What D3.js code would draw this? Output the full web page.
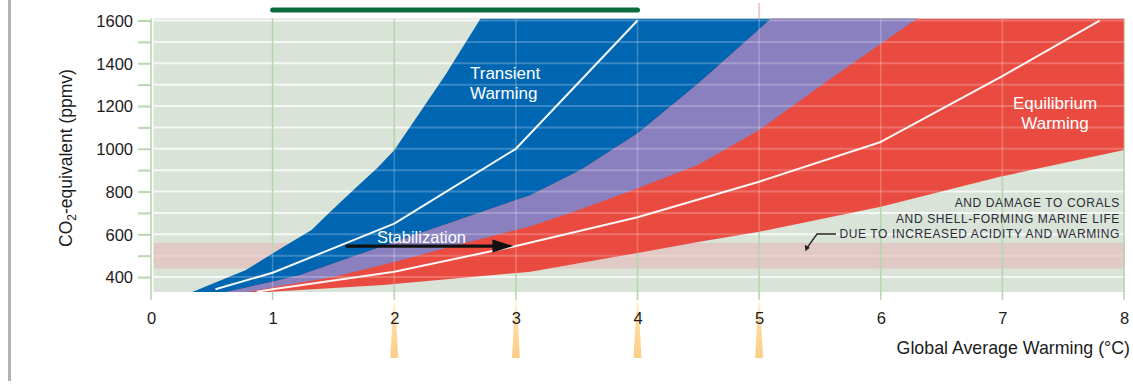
<!DOCTYPE html>
<html>
<head>
<meta charset="utf-8">
<script src="https://cdn.jsdelivr.net/npm/d3@7"></script>
<style>
  body { margin: 0; background: #fff; }
  svg { display: block; font-family: "Liberation Sans", Arial, Helvetica, sans-serif; }
</style>
</head>
<body>
<svg id="chart" width="1133" height="389"></svg>
<script>
// ---- Data: warming (°C) vs CO2-equivalent (ppmv) along each band edge ----
// Transient warming band, low-warming edge
const transientLowT   = [0.34, 0.78, 1.09, 1.32, 1.50, 1.68, 1.86, 2.00, 2.42, 2.71];
const transientLowPpm = [330, 433, 542, 620, 720, 815, 910, 993, 1345, 1610];
// Transient warming band, high-warming edge
const transientHighT   = [0.80, 1.00, 1.50, 2.00, 2.50, 3.12, 3.50, 4.00, 4.50, 5.00, 5.61, 6.30];
const transientHighPpm = [330, 352, 400, 470, 548, 638, 710, 815, 925, 1088, 1337, 1610];
// Equilibrium warming band, low-warming edge
const equilibriumLowT   = [0.62, 1.00, 1.23, 2.05, 2.76, 3.12, 3.53, 4.00, 4.50, 5.10];
const equilibriumLowPpm = [330, 378, 409, 573, 713, 783, 900, 1072, 1305, 1610];
// Equilibrium warming band, high-warming edge
const equilibriumHighT   = [0.95, 1.91, 3.12, 4.00, 4.51, 5.00, 6.00, 6.98, 8.00];
const equilibriumHighPpm = [330, 363, 425, 513, 565, 612, 729, 869, 994];
// Central estimates
const transientMidT     = [0.53, 1, 2, 3, 4];
const transientMidPpm   = [343, 420, 650, 1000, 1600];
const equilibriumMidT   = [0.87, 1, 2, 3, 4, 5, 6, 7, 7.8];
const equilibriumMidPpm = [331, 343, 425, 545, 680, 846, 1032, 1340, 1600];

// Axis ticks
const xTicks = [0, 1, 2, 3, 4, 5, 6, 7, 8];
const yTicks = d3.range(400, 1601, 100);
const yLabelStep = 200;

// Annotations
const riskBand = [440, 560];              // ppmv shaded range
const stabilization = { ppm: 545, from: 1.6, to: 2.98 };
const markerT = [2, 3, 4, 5];             // warming levels flagged below the axis
const barRange = [1, 4];                  // bar above the plot
const coralLines = ["AND DAMAGE TO CORALS", "AND SHELL-FORMING MARINE LIFE", "DUE TO INCREASED ACIDITY AND WARMING"];

// ---- Scales ----
const x = d3.scaleLinear().domain([0, 8]).range([151, 1124]);
const y = d3.scaleLinear().domain([330, 1610]).range([292, 18.4]);

const svg = d3.select("#chart");
const defs = svg.append("defs");

const zip = (ts, ps) => ts.map((t, i) => [t, ps[i]]);
const lineGen = d3.line().x(d => x(d[0])).y(d => y(d[1]));
const poly = pts => lineGen(pts) + "Z";

const A = zip(transientLowT, transientLowPpm);
const C = zip(transientHighT, transientHighPpm);
const B = zip(equilibriumLowT, equilibriumLowPpm);
const D = zip(equilibriumHighT, equilibriumHighPpm);
const [xMin, xMax] = x.domain();
const [yMin, yMax] = y.domain();

const bluePoly   = poly(A.concat(C.slice().reverse()));
const redPoly    = poly(B.concat([[xMax, yMax]], D.slice().reverse()));
const purplePoly = poly(B.concat(C.slice().reverse()));

// clip regions
defs.append("clipPath").attr("id", "plotClip").append("rect")
  .attr("x", x(xMin)).attr("y", y(yMax))
  .attr("width", x(xMax) - x(xMin) + 1).attr("height", y(yMin) - y(yMax));
const bandsClip = defs.append("clipPath").attr("id", "bandsClip");
bandsClip.append("path").attr("d", bluePoly);
bandsClip.append("path").attr("d", redPoly);

const grad = defs.append("linearGradient").attr("id", "spikeGrad")
  .attr("x1", 0).attr("y1", 0).attr("x2", 0).attr("y2", 1);
grad.append("stop").attr("offset", "0%").attr("stop-color", "#fff3da");
grad.append("stop").attr("offset", "35%").attr("stop-color", "#fedba2");
grad.append("stop").attr("offset", "100%").attr("stop-color", "#fcce86");

// left frame bar
svg.append("rect").attr("x", 8).attr("y", 0).attr("width", 3).attr("height", 381).attr("fill", "#b3b3b3");

// top bar and faint marker
svg.append("line")
  .attr("x1", x(barRange[0])).attr("x2", x(barRange[1]))
  .attr("y1", 10).attr("y2", 10)
  .attr("stroke", "#0b6b3b").attr("stroke-width", 5).attr("stroke-linecap", "round");
svg.append("line").attr("x1", x(5)).attr("x2", x(5)).attr("y1", 3).attr("y2", 18)
  .attr("stroke", "#f2cccc").attr("stroke-width", 2);

// plot background
svg.append("rect")
  .attr("x", x(xMin) + 2.5).attr("y", y(yMax))
  .attr("width", x(xMax) - x(xMin) - 1.5).attr("height", y(yMin) - y(yMax))
  .attr("fill", "#d9e3d7");

// horizontal grid (white)
const hGrid = svg.append("g");
hGrid.selectAll("line").data(yTicks).join("line")
  .attr("x1", x(xMin) + 2.5).attr("x2", x(xMax) + 1)
  .attr("y1", d => y(d)).attr("y2", d => y(d))
  .attr("stroke", "#f6f8f5").attr("stroke-width", 2);

// shaded concentration band
svg.append("rect")
  .attr("x", x(xMin) + 2.5).attr("y", y(riskBand[1]))
  .attr("width", x(xMax) - x(xMin) - 1.5).attr("height", y(riskBand[0]) - y(riskBand[1]))
  .attr("fill", "#e6b8b9").attr("opacity", 0.6);

// vertical grid (green)
svg.append("g").selectAll("line").data(xTicks).join("line")
  .attr("x1", d => x(d)).attr("x2", d => x(d))
  .attr("y1", y(yMax)).attr("y2", 300)
  .attr("stroke", "#b6d8ae").attr("stroke-width", 1.6);

// bands
const bands = svg.append("g").attr("clip-path", "url(#plotClip)");
bands.append("path").attr("d", bluePoly).attr("fill", "#0166b2");
bands.append("path").attr("d", redPoly).attr("fill", "#e94b40");
bands.append("path").attr("d", purplePoly).attr("fill", "#8a80bf");

// faint grid showing through the bands
const over = svg.append("g").attr("clip-path", "url(#bandsClip)");
const overInner = over.append("g").attr("clip-path", "url(#plotClip)");
overInner.selectAll("line.h").data(yTicks).join("line").attr("class", "h")
  .attr("x1", x(xMin)).attr("x2", x(xMax) + 1)
  .attr("y1", d => y(d)).attr("y2", d => y(d))
  .attr("stroke", "#ffffff").attr("stroke-opacity", 0.22).attr("stroke-width", 2);
overInner.selectAll("line.v").data(xTicks).join("line").attr("class", "v")
  .attr("x1", d => x(d)).attr("x2", d => x(d))
  .attr("y1", y(yMax)).attr("y2", y(yMin))
  .attr("stroke", "#ffffff").attr("stroke-opacity", 0.22).attr("stroke-width", 1.6);

// central estimate lines
const mid = svg.append("g").attr("clip-path", "url(#plotClip)");
[zip(transientMidT, transientMidPpm), zip(equilibriumMidT, equilibriumMidPpm)].forEach(pts => {
  mid.append("path").attr("d", lineGen(pts))
    .attr("fill", "none").attr("stroke", "#ffffff").attr("stroke-width", 2)
    .attr("stroke-linejoin", "round").attr("opacity", 0.95);
});

// markers below the x axis
svg.append("g").selectAll("path").data(markerT).join("path")
  .attr("d", d => `M${x(d) - 0.8},302L${x(d) + 0.8},302L${x(d) + 4},358L${x(d) - 4},358Z`)
  .attr("fill", "url(#spikeGrad)");

// x axis labels
const xAxis = d3.axisBottom(x).tickValues(xTicks).tickSize(0).tickPadding(20.5).tickFormat(d3.format("d"));
const gx = svg.append("g").attr("transform", `translate(0,${y(yMin)})`).call(xAxis);
gx.select(".domain").remove();
gx.selectAll("text").attr("font-size", 16.5).attr("fill", "#1c1c1c")
  .attr("font-family", "'Liberation Sans', Arial, sans-serif");

// y axis
const yAxis = d3.axisLeft(y).tickValues(yTicks).tickSize(13).tickPadding(5)
  .tickFormat(d => d % yLabelStep === 0 ? d : "");
const gy = svg.append("g").attr("transform", `translate(${x(xMin)},0)`).call(yAxis);
gy.select(".domain").remove();
gy.selectAll(".tick line").attr("stroke", "#b6d8ae").attr("stroke-width", 2);
gy.selectAll("text").attr("font-size", 16.5).attr("fill", "#1c1c1c")
  .attr("font-family", "'Liberation Sans', Arial, sans-serif").attr("dy", "0.36em");

// axis titles
svg.append("text").attr("x", 1130).attr("y", 354).attr("text-anchor", "end")
  .attr("font-size", 17.8).attr("fill", "#1c1c1c").text("Global Average Warming (°C)");
const yt = svg.append("text").attr("transform", "translate(71.5,158) rotate(-90)")
  .attr("text-anchor", "middle").attr("font-size", 17.5).attr("fill", "#1c1c1c");
yt.append("tspan").text("CO");
yt.append("tspan").attr("font-size", 12).attr("dy", 4).text("2");
yt.append("tspan").attr("dy", -4).text("-equivalent (ppmv)");

// band labels
const white = { fill: "#ffffff", size: 17 };
svg.append("text").attr("x", 470).attr("y", 78.5).attr("font-size", white.size).attr("fill", white.fill).text("Transient");
svg.append("text").attr("x", 470).attr("y", 98.5).attr("font-size", white.size).attr("fill", white.fill).text("Warming");
svg.append("text").attr("x", 1055).attr("y", 108.5).attr("text-anchor", "middle").attr("font-size", white.size).attr("fill", white.fill).text("Equilibrium");
svg.append("text").attr("x", 1055).attr("y", 129).attr("text-anchor", "middle").attr("font-size", white.size).attr("fill", white.fill).text("Warming");

// stabilization arrow
const sy = y(stabilization.ppm);
const sx0 = x(stabilization.from), sx1 = x(stabilization.to);
svg.append("line").attr("x1", sx0).attr("x2", sx1 - 18).attr("y1", sy).attr("y2", sy)
  .attr("stroke", "#111").attr("stroke-width", 3.2);
svg.append("path").attr("d", `M${sx1},${sy}L${sx1 - 21},${sy - 6.5}L${sx1 - 21},${sy + 6.5}Z`).attr("fill", "#111");
svg.append("text").attr("x", (sx0 + sx1) / 2 - 8).attr("y", sy - 3.5).attr("text-anchor", "middle")
  .attr("font-size", 16.5).attr("fill", "#ffffff").text("Stabilization");

// coral annotation
svg.append("g").selectAll("text").data(coralLines).join("text")
  .attr("x", 1120).attr("y", (d, i) => 207 + i * 15.7)
  .attr("text-anchor", "end").attr("font-size", 12).attr("letter-spacing", 0.62)
  .attr("fill", "#2b2b38").text(d => d);
const lx = 836, ly = 234, tipX = x(5.38), tipY = y(521);
svg.append("path").attr("d", `M${lx},${ly}L${817},${ly}L${tipX + 1.5},${tipY - 3}`)
  .attr("fill", "none").attr("stroke", "#222").attr("stroke-width", 1.3);
svg.append("path").attr("d", `M${tipX},${tipY}L${tipX - 0.5},${tipY - 6.5}L${tipX + 4.5},${tipY - 3.5}Z`).attr("fill", "#222");
</script>
</body>
</html>
